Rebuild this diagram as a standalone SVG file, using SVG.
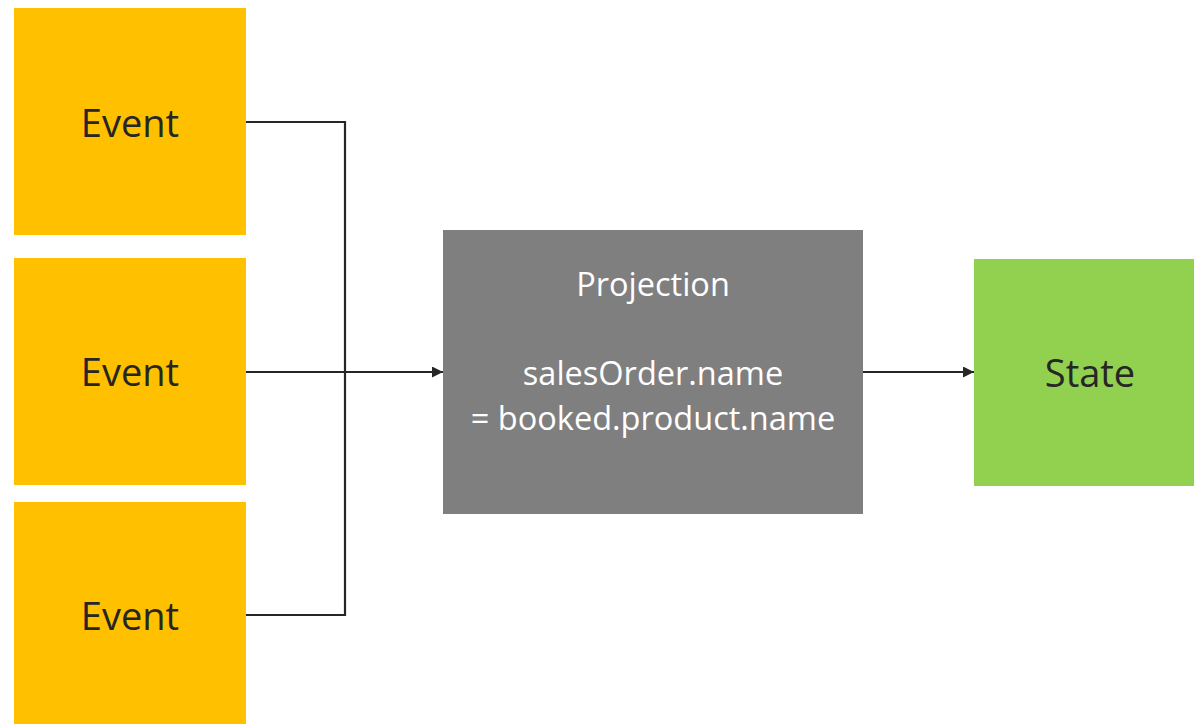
<svg xmlns="http://www.w3.org/2000/svg" width="1194" height="724" viewBox="0 0 1194 724">
  <style>
    .event { fill: #ffc000; }
    .proj { fill: #7f7f7f; }
    .state { fill: #92d050; }
    .label { font-family: "Open Sans", "Liberation Sans", sans-serif; text-anchor: middle; }
    .dark { fill: #262626; font-size: 38px; }
    .light { fill: #ffffff; font-size: 32.5px; }
    .wire { fill: none; stroke: #262626; stroke-width: 2.2; }
  </style>
  <defs>
    <marker id="arrow" viewBox="0 0 10 10" refX="10" refY="5" markerWidth="5" markerHeight="5" orient="auto" markerUnits="strokeWidth">
      <path d="M0,0 L10,5 L0,10 Z" fill="#262626"/>
    </marker>
  </defs>
  <rect width="1194" height="724" fill="#ffffff"/>

  <g id="event-1">
    <rect class="event" x="14" y="8" width="232" height="227"/>
    <text class="label dark" x="130" y="137">Event</text>
  </g>
  <g id="event-2">
    <rect class="event" x="14" y="258" width="232" height="227"/>
    <text class="label dark" x="130" y="386">Event</text>
  </g>
  <g id="event-3">
    <rect class="event" x="14" y="502" width="232" height="222"/>
    <text class="label dark" x="130" y="630">Event</text>
  </g>

  <g id="projection">
    <rect class="proj" x="443" y="230" width="420" height="284"/>
    <text class="label light" x="653" y="296">Projection</text>
    <text class="label light" x="653" y="385">salesOrder.name</text>
    <text class="label light" x="653" y="430">= booked.product.name</text>
  </g>

  <g id="state">
    <rect class="state" x="974" y="259" width="220" height="227"/>
    <text class="label dark" x="1090" y="387">State</text>
  </g>

  <g id="connectors">
    <polyline class="wire" points="246,122 345,122 345,615 246,615"/>
    <line class="wire" x1="246" y1="372" x2="345" y2="372"/>
    <line class="wire" x1="345" y1="372" x2="443" y2="372" marker-end="url(#arrow)"/>
    <line class="wire" x1="863" y1="372" x2="974" y2="372" marker-end="url(#arrow)"/>
  </g>
</svg>
